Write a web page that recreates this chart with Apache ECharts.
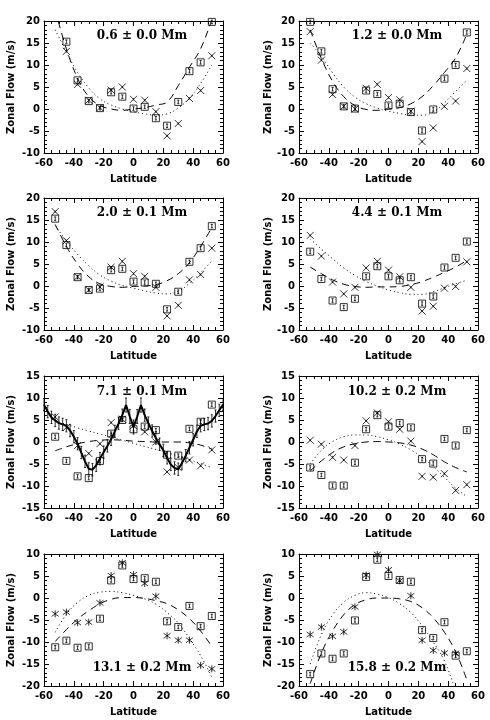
<!DOCTYPE html>
<html>
<head>
<meta charset="utf-8">
<script src="https://cdn.jsdelivr.net/npm/echarts@6/dist/echarts.min.js"></script>
<style>html,body{margin:0;padding:0;background:#fff}#chart{width:490px;height:720px}</style>
</head>
<body>
<div id="chart"></div>
<script>
// latitudes of the binned points (and of the fit curve samples)
var lat = [-52.5, -45, -37.5, -30, -22.5, -15, -7.5, 0, 7.5, 15, 22.5, 30, 37.5, 45, 52.5];
var depthLabels = ['0.6 \u00b1 0.0 Mm', '1.2 \u00b1 0.0 Mm', '2.0 \u00b1 0.1 Mm', '4.4 \u00b1 0.1 Mm',
                   '7.1 \u00b1 0.1 Mm', '10.2 \u00b1 0.2 Mm', '13.1 \u00b1 0.2 Mm', '15.8 \u00b1 0.2 Mm'];
var yMin = [-10, -10, -10, -10, -15, -15, -20, -20];
var yMax = [20, 20, 20, 20, 15, 15, 10, 10];

// squares (null = off the plot)
var sq1 = [null, 15.3, 6.5, 1.8, 0.2, 3.8, 2.8, 0.1, 0.5, -2.1, -3.8, 1.6, 8.6, 10.6, 19.8];
var sq2 = [19.8, 13.1, 4.5, 0.6, 0.1, 4.2, 3.4, 0.8, 1.2, -0.7, -4.9, -0.1, 6.9, 10.0, 17.4];
var sq3 = [15.3, 9.3, 2.0, -0.9, -0.6, 3.6, 3.9, 1.0, 0.8, 0.5, -5.3, -1.3, 5.5, 8.6, 13.6];
var sq4 = [7.8, 1.6, -3.3, -4.8, -2.9, 2.2, 4.5, 2.2, 1.3, 2.0, -4.0, -2.4, 4.2, 6.4, 10.1];
var sq5 = [1.2, -4.3, -7.8, -8.2, -4.3, 1.9, 5.0, 2.9, 3.5, 2.7, -2.9, -3.1, 3.0, 4.6, 8.5];
var sq6 = [-5.8, -7.5, -9.9, -9.9, -4.7, 2.9, 6.1, 3.5, 4.3, 3.3, -3.9, -4.9, 0.7, -0.8, 2.7];
var sq7 = [-11.2, -9.7, -11.3, -11.0, -4.7, 4.0, 7.4, 4.3, 4.5, 3.7, -5.3, -6.6, -1.8, -6.4, -4.1];
var sq8 = [-17.3, -12.6, -13.8, -12.6, -5.1, 4.8, 8.7, 5.0, 4.1, 3.7, -7.3, -9.1, -5.5, -13.1, -12.1];

// crosses / asterisks
var cx1 = [null, 13.1, 5.6, 2.0, 0.3, 4.3, 5.0, 2.2, 2.0, -0.6, -6.1, -3.3, 2.4, 4.2, 12.1];
var cx2 = [17.6, 11.1, 3.3, 0.6, 0.0, 4.7, 5.6, 2.6, 2.1, -0.5, -7.4, -4.3, 0.6, 1.8, 9.2];
var cx3 = [16.9, 10.3, 2.1, -0.9, -0.2, 4.3, 5.6, 2.8, 2.2, -0.3, -6.8, -4.4, 1.4, 2.6, 8.6];
var cx4 = [11.5, 6.8, 0.9, -1.8, -0.3, 4.1, 5.6, 3.6, 2.1, -0.3, -5.7, -4.6, -0.5, -0.1, 5.5];
var cx5 = [5.7, 3.3, -0.8, -2.6, -0.4, 4.4, 5.2, 3.7, 2.3, 0.0, -6.8, -5.8, -4.1, -5.4, -1.8];
var cx6 = [0.4, -0.5, -3.5, -4.1, -0.8, 4.8, 6.6, 4.6, 2.9, 0.2, -7.8, -8.0, -7.2, -11.0, -9.7];
var cx7 = [-3.6, -3.2, -5.6, -5.5, -1.1, 5.1, 8.0, 5.3, 3.3, 0.4, -8.6, -9.6, -9.6, -15.3, -16.1];
var cx8 = [-8.3, -6.6, -8.7, -7.7, -2.0, 5.2, 9.9, 6.4, 3.9, 0.5, -9.6, -11.9, -12.5, -12.6, null];

// dashed fit, sampled at lat
var dash1 = [22.5, 13.7, 7.0, 2.8, 0.8, 0.0, -0.3, 0.0, 0.3, 0.9, 1.6, 5.3, 9.5, 13.7, 20.3];
var dash2 = [18.0, 11.5, 6.3, 2.8, 0.8, -0.1, -0.3, 0.0, 0.3, 1.2, 2.8, 5.3, 8.3, 11.6, 17.0];
var dash3 = [14.0, 9.0, 5.0, 2.1, 0.5, -0.1, -0.3, -0.1, 0.0, 0.3, 1.2, 2.8, 5.3, 9.0, 13.3];
var dash4 = [4.3, 2.8, 1.4, 0.4, -0.1, -0.3, -0.2, -0.2, -0.1, 0.3, 1.0, 2.0, 3.1, 4.3, 5.8];
var dash5 = [-2.0, -1.1, -0.4, 0.1, 0.4, 0.5, 0.4, 0.2, 0.1, 0.0, 0.0, 0.0, -0.2, -0.7, -1.6];
var dash6 = [-6.6, -4.3, -2.4, -1.1, -0.4, 0.0, 0.1, 0.0, -0.2, -0.7, -1.6, -2.9, -4.5, -5.8, -6.8];
var dash7 = [-9.9, -7.2, -4.8, -2.9, -1.3, -0.3, 0.1, 0.1, -0.1, -0.6, -1.3, -2.7, -4.7, -7.5, -11.0];
var dash8 = [-19.5, -12.5, -7.5, -3.8, -1.5, -0.4, 0.0, 0.0, -0.2, -0.8, -2.2, -4.5, -7.8, -12.2, -18.6];

// dotted fit, sampled at lat
var dot1 = [18.0, 13.0, 8.3, 4.8, 2.3, 0.9, 0.0, -0.6, -1.1, -1.4, -1.1, 0.2, 2.5, 5.8, 10.0];
var dot2 = [15.0, 12.0, 8.2, 5.0, 2.7, 1.2, 0.2, -0.5, -1.0, -1.4, -1.4, -0.7, 1.4, 4.0, 6.5];
var dot3 = [13.7, 10.3, 7.2, 4.6, 2.5, 1.1, 0.1, -0.5, -1.1, -1.6, -1.8, -1.2, 0.6, 3.0, 5.7];
var dot4 = [10.7, 8.4, 6.2, 4.1, 2.4, 1.0, 0.0, -0.9, -1.5, -1.9, -1.9, -1.3, -0.4, 0.5, 1.3];
var dot5 = [4.8, 4.0, 3.2, 2.5, 1.8, 1.1, 0.4, -0.3, -1.0, -1.7, -2.4, -3.2, -4.0, -4.9, -5.8];
var dot6 = [-5.0, -1.9, 0.1, 1.2, 1.6, 1.6, 1.2, 0.5, -0.5, -1.8, -3.5, -5.6, -8.0, -10.5, -12.4];
var dot7 = [-7.8, -3.7, -1.0, 0.6, 1.3, 1.5, 1.2, 0.6, -0.2, -1.4, -3.3, -5.7, -9.2, -13.1, -18.0];
var dot8 = [-15.0, -8.3, -3.8, -1.0, 0.6, 1.2, 0.9, 0.1, -1.3, -3.3, -6.3, -10.0, -14.3, -21.0, -28.0];

// 7.1 Mm panel: solid profile with error bars
var solidLat = [-60, -57.5, -55, -52.5, -50, -47.5, -45, -42.5, -40, -37.5, -35, -32.5, -30, -27.5, -25, -22.5, -20,
                -17.5, -15, -12.5, -10, -7.5, -5, -2.5, 0, 2.5, 5, 7.5, 10, 12.5, 15, 17.5, 20, 22.5, 25, 27.5, 30,
                32.5, 35, 37.5, 40, 42.5, 45, 47.5, 50, 52.5, 55, 57.5, 60];
var solidVal = [8.5, 6.9, 5.6, 4.9, 4.3, 4.0, 3.7, 2.6, 1.2, -0.4, -2.4, -4.4, -6.1, -6.3, -5.3, -3.8, -2.3,
                -0.9, 0.6, 2.4, 4.2, 6.1, 8.4, 5.8, 3.4, 5.8, 8.4, 6.1, 4.3, 2.5, 0.9, -0.5, -1.9, -3.6, -5.1, -5.9, -6.2,
                -4.8, -3.1, -1.3, 0.5, 2.4, 3.7, 4.0, 4.2, 4.8, 5.9, 7.2, 8.5];
var solidErr = [1.4, 1.4, 1.4, 1.4, 1.4, 1.4, 1.4, 1.4, 1.4, 1.4, 1.4, 1.4, 1.4, 1.4, 1.4, 1.4, 1.4,
                1.4, 1.4, 1.4, 1.4, 1.4, 1.6, 1.6, 1.6, 1.6, 1.6, 1.4, 1.4, 1.4, 1.4, 1.4, 1.4, 1.4, 1.4, 1.4, 1.4,
                1.4, 1.4, 1.4, 1.4, 1.4, 1.4, 1.4, 1.4, 1.4, 1.4, 1.4, 1.4];

var squares = [sq1, sq2, sq3, sq4, sq5, sq6, sq7, sq8];
var crosses = [cx1, cx2, cx3, cx4, cx5, cx6, cx7, cx8];
var dashed = [dash1, dash2, dash3, dash4, dash5, dash6, dash7, dash8];
var dotted = [dot1, dot2, dot3, dot4, dot5, dot6, dot7, dot8];

var chart = echarts.init(document.getElementById('chart'));

var rowTop = [21, 198, 376, 554];
var colLeft = [44, 299];
var textY = [36, 213, 392, 668];
var textX = [142, 397];
var font = 'DejaVu Sans';

var sqSymbol = 'path://M0,0H10V10H0ZM5,2.5V7.5M3.5,2.5H6.5M3.5,7.5H6.5';
var xSymbol = 'path://M0,0L10,10M10,0L0,10M5,3.5V6.5';
var starSymbol = 'path://M0,1L10,9M10,1L0,9M5,-0.5V10.5';

function pairs(ys) {
    var out = [];
    for (var i = 0; i < lat.length; i++) {
        if (ys[i] !== null) out.push([lat[i], ys[i]]);
    }
    return out;
}

var grids = [], xAxes = [], yAxes = [], series = [], texts = [];
var tickLab = {fontSize: 10, fontWeight: 'bold', color: '#000', fontFamily: font};

for (var p = 0; p < 8; p++) {
    var col = p % 2, row = Math.floor(p / 2);
    grids.push({left: colLeft[col], width: 179, top: rowTop[row], height: 132});
    xAxes.push({
        type: 'value', gridIndex: p, min: -60, max: 60, interval: 20,
        name: 'Latitude', nameLocation: 'middle', nameGap: 21,
        nameTextStyle: {fontSize: 10, fontWeight: 'bold', color: '#000', fontFamily: font},
        axisLine: {onZero: false, lineStyle: {color: '#000', width: 1}},
        axisTick: {inside: true, length: 5, lineStyle: {color: '#000'}},
        minorTick: {show: true, splitNumber: 4, length: 3, lineStyle: {color: '#000'}},
        axisLabel: Object.assign({margin: 5}, tickLab),
        splitLine: {show: false}
    });
    yAxes.push({
        type: 'value', gridIndex: p, min: yMin[p], max: yMax[p], interval: 5,
        name: 'Zonal Flow (m/s)', nameLocation: 'middle', nameGap: col === 0 ? 28 : 23,
        nameTextStyle: {fontSize: 10, fontWeight: 'bold', color: '#000', fontFamily: font},
        axisLine: {onZero: false, lineStyle: {color: '#000', width: 1}},
        axisTick: {inside: true, length: 5, lineStyle: {color: '#000'}},
        minorTick: {show: true, splitNumber: 5, length: 3, lineStyle: {color: '#000'}},
        axisLabel: Object.assign({margin: 4}, tickLab),
        splitLine: {show: false}
    });
    texts.push({
        type: 'text', x: textX[col], y: textY[row],
        style: {text: depthLabels[p], x: 0, y: 0, textAlign: 'center', textVerticalAlign: 'middle',
                 font: 'bold 12px "DejaVu Serif"', fill: '#000'}
    });
}
// mirrored frame axes (top / right)
for (var q = 0; q < 8; q++) {
    xAxes.push({
        type: 'value', gridIndex: q, position: 'top', min: -60, max: 60, interval: 20,
        axisLine: {onZero: false, lineStyle: {color: '#000', width: 1}},
        axisTick: {inside: true, length: 5, lineStyle: {color: '#000'}},
        minorTick: {show: true, splitNumber: 4, length: 3, lineStyle: {color: '#000'}},
        axisLabel: {show: false}, splitLine: {show: false}
    });
    yAxes.push({
        type: 'value', gridIndex: q, position: 'right', min: yMin[q], max: yMax[q], interval: 5,
        axisLine: {onZero: false, lineStyle: {color: '#000', width: 1}},
        axisTick: {inside: true, length: 5, lineStyle: {color: '#000'}},
        minorTick: {show: true, splitNumber: 5, length: 3, lineStyle: {color: '#000'}},
        axisLabel: {show: false}, splitLine: {show: false}
    });
}

for (var k = 0; k < 8; k++) {
    series.push({
        type: 'line', xAxisIndex: k, yAxisIndex: k, smooth: 0.4, symbol: 'none', silent: true,
        data: lat.map(function (x, i) { return [x, dashed[k][i]]; }),
        lineStyle: {color: '#000', width: 1, type: [7, 5]}, clip: true, z: 2
    });
    series.push({
        type: 'line', xAxisIndex: k, yAxisIndex: k, smooth: 0.4, symbol: 'none', silent: true,
        data: lat.map(function (x, i) { return [x, dotted[k][i]]; }),
        lineStyle: {color: '#000', width: 1, type: [1, 3]}, clip: true, z: 2
    });
    series.push({
        type: 'scatter', xAxisIndex: k, yAxisIndex: k, symbol: sqSymbol, symbolSize: 7,
        data: pairs(squares[k]),
        itemStyle: {color: 'rgba(255,255,255,0)', borderColor: '#000', borderWidth: 1}, z: 3
    });
    series.push({
        type: 'scatter', xAxisIndex: k, yAxisIndex: k, symbol: k >= 6 ? starSymbol : xSymbol,
        symbolSize: 7,
        data: pairs(crosses[k]),
        itemStyle: {color: 'rgba(255,255,255,0)', borderColor: '#000', borderWidth: 1}, z: 3
    });
}

// solid profile in the 7.1 Mm panel
series.push({
    type: 'line', xAxisIndex: 4, yAxisIndex: 4, symbol: 'none', silent: true,
    data: solidLat.map(function (x, i) { return [x, solidVal[i]]; }),
    lineStyle: {color: '#000', width: 2}, z: 4
});
series.push({
    type: 'custom', xAxisIndex: 4, yAxisIndex: 4, silent: true, z: 4,
    data: solidLat.map(function (x, i) { return [x, solidVal[i] - solidErr[i], solidVal[i] + solidErr[i]]; }),
    renderItem: function (params, api) {
        var lo = api.coord([api.value(0), api.value(1)]);
        var hi = api.coord([api.value(0), api.value(2)]);
        var st = {stroke: '#000', lineWidth: 0.8};
        return {type: 'group', children: [
            {type: 'line', shape: {x1: lo[0], y1: lo[1], x2: hi[0], y2: hi[1]}, style: st},
            {type: 'line', shape: {x1: lo[0] - 1, y1: lo[1], x2: lo[0] + 1, y2: lo[1]}, style: st},
            {type: 'line', shape: {x1: hi[0] - 1, y1: hi[1], x2: hi[0] + 1, y2: hi[1]}, style: st}
        ]};
    }
});

chart.setOption({
    backgroundColor: '#fff',
    animation: false,
    grid: grids,
    xAxis: xAxes,
    yAxis: yAxes,
    series: series,
    graphic: texts
});
</script>
</body>
</html>
